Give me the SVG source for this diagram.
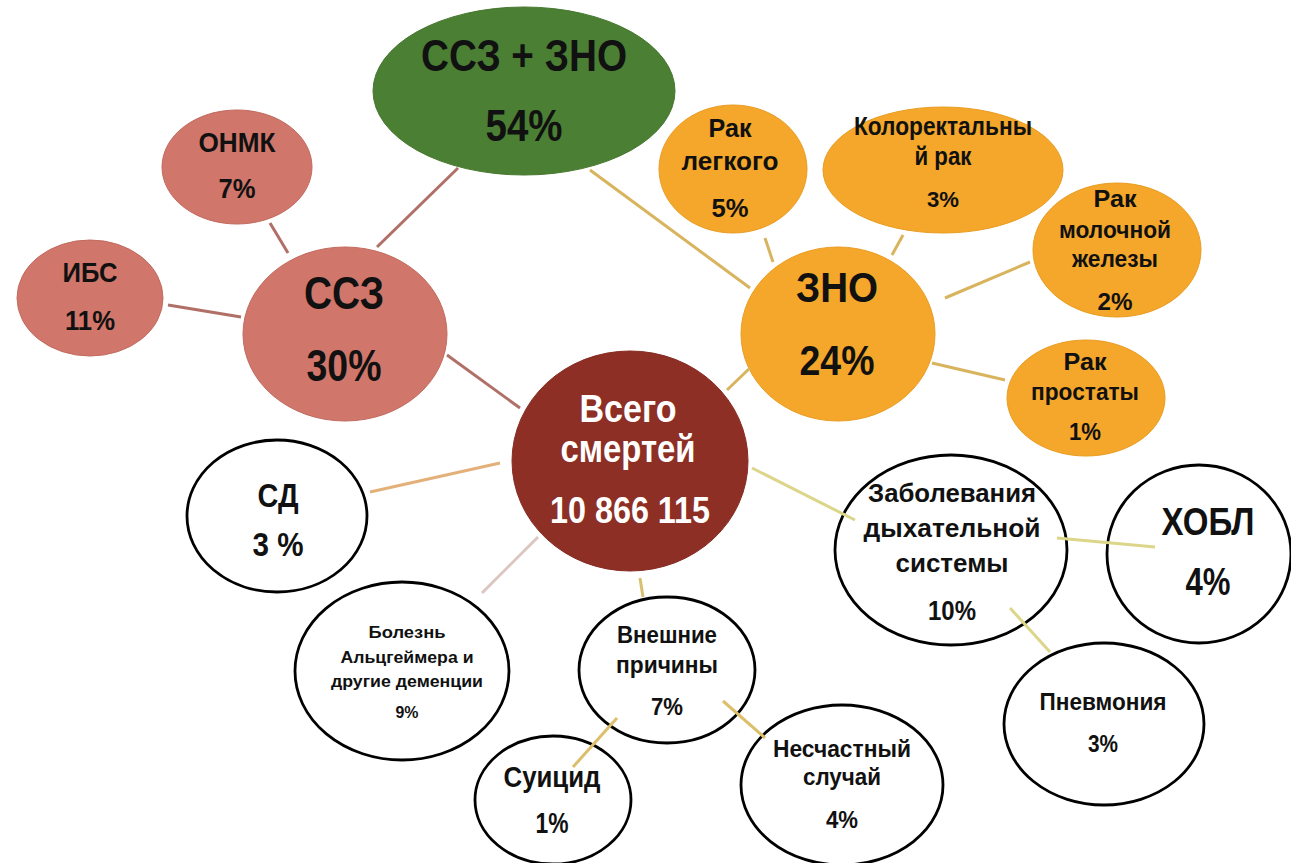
<svg xmlns="http://www.w3.org/2000/svg" width="1291" height="863" viewBox="0 0 1291 863">
<style>
text{font-family:"Liberation Sans",Arial,sans-serif;font-weight:bold;text-anchor:middle;fill:#111;}
.w{fill:#ffffff;}
.sal{fill:#D0766A;stroke:#C26A5F;stroke-width:1;}
.grn{fill:#4B7F34;stroke:#47782F;stroke-width:1;}
.dr{fill:#8E2F25;stroke:#862C23;stroke-width:1;}
.org{fill:#F4A72A;stroke:#E99C22;stroke-width:1;}
.wht{fill:#ffffff;stroke:#000;stroke-width:2.8;}
.c{fill:none;stroke-width:3;stroke-linecap:butt;}
.cr{stroke:#B07068;}
.cg{stroke:#D9B45E;}
.cy{stroke:#DCD68A;}
</style>
<rect width="1291" height="863" fill="#ffffff"/>
<g id="n-total">
<ellipse class="grn" cx="524" cy="91" rx="151" ry="84"/>
<text x="524" y="71" font-size="45" textLength="206" lengthAdjust="spacingAndGlyphs">ССЗ + ЗНО</text>
<text x="524" y="141" font-size="44" textLength="77" lengthAdjust="spacingAndGlyphs">54%</text>
</g>
<g id="n-onmk">
<ellipse class="sal" cx="237" cy="167" rx="75" ry="57"/>
<text x="237" y="152" font-size="27" textLength="77" lengthAdjust="spacingAndGlyphs">ОНМК</text>
<text x="237" y="198" font-size="28" textLength="37" lengthAdjust="spacingAndGlyphs">7%</text>
</g>
<g id="n-ibs">
<ellipse class="sal" cx="90" cy="298" rx="73" ry="58"/>
<text x="90" y="282" font-size="27" textLength="55" lengthAdjust="spacingAndGlyphs">ИБС</text>
<text x="90" y="330" font-size="28" textLength="50" lengthAdjust="spacingAndGlyphs">11%</text>
</g>
<g id="n-ssz">
<ellipse class="sal" cx="345" cy="334" rx="102" ry="87"/>
<text x="344" y="309" font-size="46" textLength="80" lengthAdjust="spacingAndGlyphs">ССЗ</text>
<text x="344" y="381" font-size="44" textLength="75" lengthAdjust="spacingAndGlyphs">30%</text>
</g>
<g id="n-all">
<ellipse class="dr" cx="630" cy="461" rx="118" ry="110"/>
<text class="w" x="628" y="422" font-size="39" textLength="97" lengthAdjust="spacingAndGlyphs">Всего</text>
<text class="w" x="628" y="462" font-size="39" textLength="135" lengthAdjust="spacingAndGlyphs">смертей</text>
<text class="w" x="630" y="523" font-size="37" textLength="160" lengthAdjust="spacingAndGlyphs">10 866 115</text>
</g>
<g id="n-zno">
<ellipse class="org" cx="838" cy="334" rx="97" ry="87"/>
<text x="837" y="302" font-size="42" textLength="82" lengthAdjust="spacingAndGlyphs">ЗНО</text>
<text x="837" y="375" font-size="43" textLength="75" lengthAdjust="spacingAndGlyphs">24%</text>
</g>
<g id="n-lung">
<ellipse class="org" cx="733" cy="169" rx="74" ry="64"/>
<text x="730" y="137" font-size="26" textLength="43" lengthAdjust="spacingAndGlyphs">Рак</text>
<text x="730" y="170" font-size="26" textLength="97" lengthAdjust="spacingAndGlyphs">легкого</text>
<text x="730" y="217" font-size="26" textLength="37" lengthAdjust="spacingAndGlyphs">5%</text>
</g>
<g id="n-colorectal">
<ellipse class="org" cx="943" cy="170" rx="120" ry="63"/>
<text x="943" y="135" font-size="25" textLength="178" lengthAdjust="spacingAndGlyphs">Колоректальны</text>
<text x="943" y="165" font-size="25" textLength="57" lengthAdjust="spacingAndGlyphs">й рак</text>
<text x="943" y="207" font-size="22" textLength="32" lengthAdjust="spacingAndGlyphs">3%</text>
</g>
<g id="n-breast">
<ellipse class="org" cx="1117" cy="250" rx="84" ry="67"/>
<text x="1115" y="207" font-size="24" textLength="43" lengthAdjust="spacingAndGlyphs">Рак</text>
<text x="1115" y="238" font-size="24" textLength="112" lengthAdjust="spacingAndGlyphs">молочной</text>
<text x="1115" y="267" font-size="24" textLength="86" lengthAdjust="spacingAndGlyphs">железы</text>
<text x="1115" y="310" font-size="24" textLength="35" lengthAdjust="spacingAndGlyphs">2%</text>
</g>
<g id="n-prostate">
<ellipse class="org" cx="1086" cy="398" rx="79" ry="58"/>
<text x="1085" y="370" font-size="24" textLength="43" lengthAdjust="spacingAndGlyphs">Рак</text>
<text x="1085" y="400" font-size="24" textLength="108" lengthAdjust="spacingAndGlyphs">простаты</text>
<text x="1085" y="440" font-size="23" textLength="32" lengthAdjust="spacingAndGlyphs">1%</text>
</g>
<g id="n-sd">
<ellipse class="wht" cx="277" cy="516" rx="90" ry="76"/>
<text x="278" y="507" font-size="33" textLength="41" lengthAdjust="spacingAndGlyphs">СД</text>
<text x="278" y="556" font-size="34" textLength="51" lengthAdjust="spacingAndGlyphs">3 %</text>
</g>
<g id="n-alz">
<ellipse class="wht" cx="402" cy="671" rx="107" ry="89"/>
<text x="407" y="638" font-size="17" textLength="77" lengthAdjust="spacingAndGlyphs">Болезнь</text>
<text x="407" y="663" font-size="17" textLength="133" lengthAdjust="spacingAndGlyphs">Альцгеймера и</text>
<text x="407" y="687" font-size="17" textLength="152" lengthAdjust="spacingAndGlyphs">другие деменции</text>
<text x="407" y="718" font-size="17" textLength="23" lengthAdjust="spacingAndGlyphs">9%</text>
</g>
<g id="n-ext">
<ellipse class="wht" cx="667" cy="670" rx="88" ry="73"/>
<text x="667" y="643" font-size="24" textLength="100" lengthAdjust="spacingAndGlyphs">Внешние</text>
<text x="667" y="673" font-size="24" textLength="102" lengthAdjust="spacingAndGlyphs">причины</text>
<text x="667" y="715" font-size="24" textLength="32" lengthAdjust="spacingAndGlyphs">7%</text>
</g>
<g id="n-suicide">
<ellipse class="wht" cx="553" cy="800" rx="78" ry="64"/>
<text x="552" y="787" font-size="29" textLength="97" lengthAdjust="spacingAndGlyphs">Суицид</text>
<text x="552" y="833" font-size="29" textLength="33" lengthAdjust="spacingAndGlyphs">1%</text>
</g>
<g id="n-accident">
<ellipse class="wht" cx="842" cy="785" rx="101" ry="80"/>
<text x="842" y="757" font-size="24" textLength="138" lengthAdjust="spacingAndGlyphs">Несчастный</text>
<text x="842" y="785" font-size="24" textLength="78" lengthAdjust="spacingAndGlyphs">случай</text>
<text x="842" y="828" font-size="24" textLength="32" lengthAdjust="spacingAndGlyphs">4%</text>
</g>
<g id="n-resp">
<ellipse class="wht" cx="951" cy="550" rx="116" ry="95"/>
<text x="952" y="502" font-size="25" textLength="168" lengthAdjust="spacingAndGlyphs">Заболевания</text>
<text x="952" y="537" font-size="25" textLength="177" lengthAdjust="spacingAndGlyphs">дыхательной</text>
<text x="952" y="572" font-size="25" textLength="113" lengthAdjust="spacingAndGlyphs">системы</text>
<text x="952" y="620" font-size="27" textLength="48" lengthAdjust="spacingAndGlyphs">10%</text>
</g>
<g id="n-copd">
<ellipse class="wht" cx="1199" cy="554" rx="92" ry="89"/>
<text x="1208" y="535" font-size="38" textLength="93" lengthAdjust="spacingAndGlyphs">ХОБЛ</text>
<text x="1208" y="595" font-size="38" textLength="45" lengthAdjust="spacingAndGlyphs">4%</text>
</g>
<g id="n-pneu">
<ellipse class="wht" cx="1104" cy="724" rx="100" ry="81"/>
<text x="1103" y="710" font-size="24" textLength="127" lengthAdjust="spacingAndGlyphs">Пневмония</text>
<text x="1103" y="752" font-size="24" textLength="30" lengthAdjust="spacingAndGlyphs">3%</text>
</g>
<g id="connectors">
<line class="c cr" x1="377" y1="247" x2="458" y2="168"/>
<line class="c cr" x1="270" y1="223" x2="288" y2="253"/>
<line class="c cr" x1="168" y1="305" x2="241" y2="317"/>
<line class="c cr" x1="447" y1="355" x2="520" y2="408"/>
<line class="c cg" x1="590" y1="170" x2="750" y2="288"/>
<line class="c cg" x1="765" y1="238" x2="773" y2="262"/>
<line class="c cg" x1="903" y1="235" x2="892" y2="255"/>
<line class="c cg" x1="1030" y1="262" x2="945" y2="298"/>
<line class="c cg" x1="932" y1="363" x2="1005" y2="380"/>
<line class="c cg" x1="750" y1="368" x2="727" y2="390"/>
<line class="c" stroke="#E3B07A" x1="500" y1="463" x2="370" y2="492"/>
<line class="c" stroke="#DCC6C0" stroke-width="2" x1="538" y1="537" x2="482" y2="593"/>
<line class="c" stroke="#D9C070" x1="640" y1="578" x2="643" y2="597"/>
<line class="c cy" x1="752" y1="468" x2="855" y2="520"/>
<line class="c cy" x1="1057" y1="538" x2="1155" y2="547"/>
<line class="c cy" x1="1010" y1="608" x2="1050" y2="652"/>
<line class="c" stroke="#DDBE6A" x1="617" y1="718" x2="573" y2="767"/>
<line class="c" stroke="#DDBE6A" x1="723" y1="701" x2="765" y2="738"/>
</g>
</svg>
